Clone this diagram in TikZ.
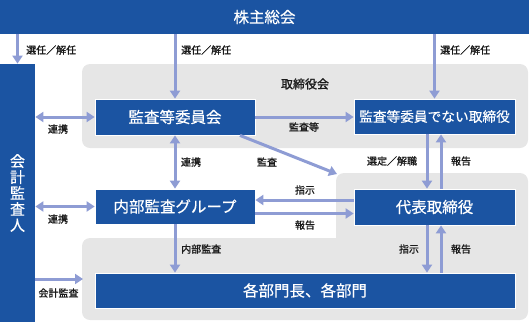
\documentclass[tikz,border=0pt]{standalone}
\usepackage{fontspec}
\setmainfont{Noto Sans CJK JP}
\newfontfamily\lblfont[FakeBold=1.3]{Noto Sans CJK JP}
\newfontfamily\boxfont[FakeBold=0.4]{Noto Sans CJK JP}
\usetikzlibrary{arrows.meta,calc}
\definecolor{boxblue}{HTML}{1B54A2}
\definecolor{arrowc}{HTML}{8E9CD4}
\definecolor{panelgray}{HTML}{E6E6E6}
\definecolor{lblc}{HTML}{1A1A1A}
\tikzset{
  bluebox/.style={fill=boxblue, draw=white, line width=0.8pt, text=white, inner sep=0pt,
    font=\boxfont\fontsize{15.5}{16}\selectfont},
  lbl/.style={text=lblc, inner sep=0pt, font=\lblfont\fontsize{10}{11}\selectfont},
  arr/.style={draw=arrowc, line width=3pt, -{Triangle[width=10pt,length=8pt]}},
  darr/.style={draw=arrowc, line width=3pt, {Triangle[width=10pt,length=8pt]}-{Triangle[width=10pt,length=8pt]}},
}
\begin{document}
\begin{tikzpicture}[x=1pt,y=-1pt]
\useasboundingbox (0,0) rectangle (529,322);
% panels
\fill[panelgray, rounded corners=8pt] (82,64) rectangle (528,148);
\fill[panelgray] (336,238) -- (336,200) [rounded corners=8pt] -- (336,173) -- (528,173) -- (528,320) -- (82,320) -- (82,238) [sharp corners] -- (200,238) -- cycle;
\coordinate (lowcorner) at (337,174);
\coordinate (lowleft) at (83,279);
\node[lbl, font=\lblfont\fontsize{12}{13}\selectfont] (bodlbl) at (305,84) {取締役会};
% boxes
\node[bluebox, draw=none, minimum width=529pt, minimum height=34pt] (gm) at (264.5,17) {株主総会};
\node[bluebox, draw=none, minimum width=35pt, minimum height=258pt, align=center,
  font=\boxfont\fontsize{15}{16}\selectfont] (kaikei) at (17.5,193) {会\\計\\監\\査\\人};
\node[bluebox, minimum width=160pt, minimum height=36pt] (aiin) at (175,117) {監査等委員会};
\node[bluebox, minimum width=161pt, minimum height=35pt, font=\boxfont\fontsize{13.7}{15}\selectfont] (nonaudit) at (434.5,116.5) {監査等委員でない取締役};
\node[bluebox, minimum width=160pt, minimum height=35pt] (ig) at (175,206.5) {内部監査グループ};
\node[bluebox, minimum width=161pt, minimum height=36pt] (rep) at (434.5,207) {代表取締役};
\node[bluebox, minimum width=420pt, minimum height=35pt] (div) at (305,290.5) {各部門長、各部門};
% arrows
\draw[arr] (gm.south -| kaikei) -- (kaikei.north);
\draw[arr] (gm.south -| aiin) -- (aiin.north);
\draw[arr] (gm.south -| nonaudit) -- (nonaudit.north);
\draw[darr] (kaikei.east |- aiin.west) -- (aiin.west);
\draw[arr] (aiin.east) -- (aiin.east -| nonaudit.west);
\draw[arr] ([xshift=65pt]aiin.south) -- (lowcorner);
\draw[darr] (aiin.south) -- (ig.north);
\draw[darr] (kaikei.east |- ig.west) -- (ig.west);
\draw[arr] ([yshift=7pt]rep.west) -- ([yshift=7pt]rep.west -| ig.east);
\draw[arr] ([yshift=-7pt]ig.east) -- ([yshift=-7pt]ig.east -| rep.west);
\draw[arr] ([xshift=-7.5pt]nonaudit.south) -- ([xshift=-7.5pt]rep.north);
\draw[arr] ([xshift=6.5pt]rep.north) -- ([xshift=6.5pt]nonaudit.south);
\draw[arr] ([xshift=-7.5pt]rep.south) -- ([xshift=-7.5pt]rep.south |- div.north);
\draw[arr] ([xshift=6.5pt]rep.south |- div.north) -- ([xshift=6.5pt]rep.south);
\draw[arr] (ig.south) -- (ig.south |- div.north);
\draw[arr] (kaikei.east |- lowleft) -- (lowleft);
% labels
\node[lbl, anchor=west] (l1) at (26,50) {選任／解任};
\node[lbl, anchor=west] (l2) at (181,50) {選任／解任};
\node[lbl, anchor=west] (l3) at (440,50) {選任／解任};
\node[lbl] (l4) at (58,129) {連携};
\node[lbl] (l5) at (304,127) {監査等};
\node[lbl] (l6) at (191,162) {連携};
\node[lbl] (l7) at (267,162) {監査};
\node[lbl] (l8) at (392,161) {選定／解職};
\node[lbl] (l9) at (461,161) {報告};
\node[lbl] (l10) at (305,190) {指示};
\node[lbl] (l11) at (305,225) {報告};
\node[lbl] (l12) at (58,219) {連携};
\node[lbl, anchor=west] (l13) at (181,249) {内部監査};
\node[lbl] (l14) at (409,249) {指示};
\node[lbl] (l15) at (461,249) {報告};
\node[lbl] (l16) at (58.5,293) {会計監査};
\end{tikzpicture}
\end{document}
